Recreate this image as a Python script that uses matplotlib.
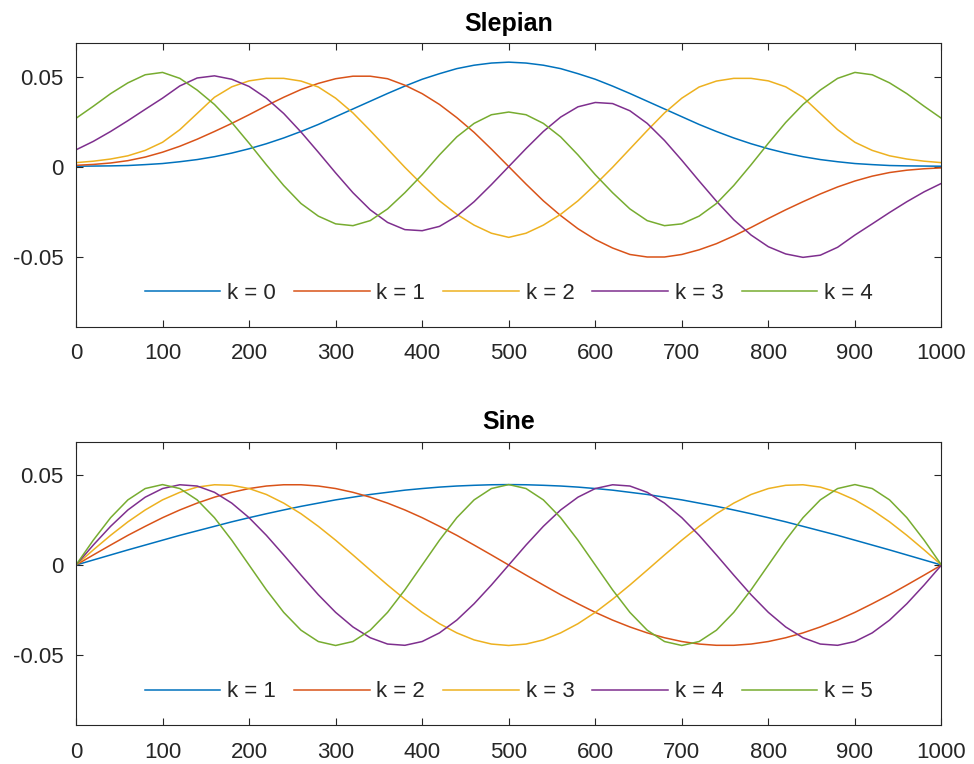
import numpy as np
import matplotlib
matplotlib.use("Agg")
import matplotlib.pyplot as plt

# sample positions (every 20 samples of 1000)
x = np.arange(0, 1001, 20)

# Slepian tapers
slep0 = [0.0002, 0.0003, 0.0004, 0.0006, 0.0011, 0.0017, 0.0027, 0.0039, 0.0055, 0.0075, 0.0099, 0.0127, 0.0159,
         0.0195, 0.0234, 0.0277, 0.0320, 0.0363, 0.0406, 0.0447, 0.0485, 0.0516, 0.0544, 0.0563, 0.0575, 0.0580,
         0.0575, 0.0563, 0.0544, 0.0516, 0.0485, 0.0447, 0.0406, 0.0363, 0.0320, 0.0277, 0.0234, 0.0195, 0.0159,
         0.0127, 0.0099, 0.0075, 0.0055, 0.0039, 0.0027, 0.0017, 0.0011, 0.0006, 0.0004, 0.0003, 0.0002]
slep1 = [0.0007, 0.0012, 0.0020, 0.0033, 0.0053, 0.0080, 0.0113, 0.0152, 0.0195, 0.0240, 0.0288, 0.0338, 0.0385,
         0.0428, 0.0462, 0.0488, 0.0502, 0.0502, 0.0488, 0.0452, 0.0405, 0.0345, 0.0272, 0.0190, 0.0097, 0.0,
         -0.0097, -0.0190, -0.0272, -0.0345, -0.0405, -0.0452, -0.0488, -0.0502, -0.0502, -0.0488, -0.0462, -0.0428,
         -0.0385, -0.0338, -0.0288, -0.0240, -0.0195, -0.0152, -0.0113, -0.0080, -0.0053, -0.0033, -0.0020, -0.0012,
         -0.0007]
slep2 = [0.0022, 0.0030, 0.0042, 0.0060, 0.0090, 0.0135, 0.0205, 0.0295, 0.0385, 0.0443, 0.0476, 0.0490, 0.0490,
         0.0475, 0.0442, 0.0380, 0.0298, 0.0200, 0.0098, -0.0004, -0.0100, -0.0190, -0.0265, -0.0325, -0.0370, -0.0393,
         -0.0370, -0.0325, -0.0265, -0.0190, -0.0100, -0.0004, 0.0098, 0.0200, 0.0298, 0.0380, 0.0442, 0.0475, 0.0490,
         0.0490, 0.0476, 0.0443, 0.0385, 0.0295, 0.0205, 0.0135, 0.0090, 0.0060, 0.0042, 0.0030, 0.0022]
slep3 = [0.0093, 0.0140, 0.0195, 0.0255, 0.0318, 0.0380, 0.0448, 0.0492, 0.0504, 0.0485, 0.0445, 0.0380, 0.0295,
         0.0192, 0.0080, -0.0035, -0.0145, -0.0240, -0.0310, -0.0350, -0.0356, -0.0332, -0.0275, -0.0195, -0.0100, 0.0,
         0.0100, 0.0195, 0.0275, 0.0332, 0.0356, 0.0350, 0.0310, 0.0240, 0.0145, 0.0035, -0.0080, -0.0192, -0.0295,
         -0.0380, -0.0445, -0.0485, -0.0504, -0.0492, -0.0448, -0.0380, -0.0318, -0.0255, -0.0195, -0.0140, -0.0093]
slep4 = [0.0268, 0.0335, 0.0405, 0.0465, 0.0510, 0.0523, 0.0490, 0.0425, 0.0345, 0.0245, 0.0130, 0.0010, -0.0105,
         -0.0205, -0.0275, -0.0318, -0.0328, -0.0300, -0.0235, -0.0145, -0.0045, 0.0065, 0.0165, 0.0240, 0.0288, 0.0303,
         0.0288, 0.0240, 0.0165, 0.0065, -0.0045, -0.0145, -0.0235, -0.0300, -0.0328, -0.0318, -0.0275, -0.0205,
         -0.0105, 0.0010, 0.0130, 0.0245, 0.0345, 0.0425, 0.0490, 0.0523, 0.0510, 0.0465, 0.0405, 0.0335, 0.0268]

# sine tapers
sine1 = [0, .0028, .0056, .0084, .0111, .0138, .0165, .0190, .0215, .0240, .0263, .0285, .0306, .0326, .0344, .0362,
         .0377, .0392, .0404, .0416, .0425, .0433, .0439, .0443, .0446, .0447, .0446, .0443, .0439, .0433, .0425, .0416,
         .0404, .0392, .0377, .0362, .0344, .0326, .0306, .0285, .0263, .0240, .0215, .0190, .0165, .0138, .0111, .0084,
         .0056, .0028, 0]
sine2 = [0, .0056, .0111, .0165, .0215, .0263, .0306, .0344, .0377, .0404, .0425, .0439, .0446, .0446, .0439, .0425,
         .0404, .0377, .0344, .0306, .0263, .0215, .0165, .0111, .0056, 0, -.0056, -.0111, -.0165, -.0215, -.0263,
         -.0306, -.0344, -.0377, -.0404, -.0425, -.0439, -.0446, -.0446, -.0439, -.0425, -.0404, -.0377, -.0344,
         -.0306, -.0263, -.0215, -.0165, -.0111, -.0056, 0]
sine3 = [0, .0084, .0165, .0240, .0306, .0362, .0404, .0433, .0446, .0443, .0425, .0392, .0344, .0285, .0215, .0138,
         .0056, -.0028, -.0111, -.0190, -.0263, -.0326, -.0377, -.0416, -.0439, -.0447, -.0439, -.0416, -.0377, -.0326,
         -.0263, -.0190, -.0111, -.0028, .0056, .0138, .0215, .0285, .0344, .0392, .0425, .0443, .0446, .0433, .0404,
         .0362, .0306, .0240, .0165, .0084, 0]
sine4 = [0, .0111, .0215, .0306, .0377, .0425, .0446, .0439, .0404, .0344, .0263, .0165, .0056, -.0056, -.0165, -.0263,
         -.0344, -.0404, -.0439, -.0446, -.0425, -.0377, -.0306, -.0215, -.0111, 0, .0111, .0215, .0306, .0377, .0425,
         .0446, .0439, .0404, .0344, .0263, .0165, .0056, -.0056, -.0165, -.0263, -.0344, -.0404, -.0439, -.0446,
         -.0425, -.0377, -.0306, -.0215, -.0111, 0]
sine5 = [0, .0138, .0263, .0362, .0425, .0447, .0425, .0362, .0263, .0138, 0, -.0138, -.0263, -.0362, -.0425, -.0447,
         -.0425, -.0362, -.0263, -.0138, 0, .0138, .0263, .0362, .0425, .0447, .0425, .0362, .0263, .0138, 0, -.0138,
         -.0263, -.0362, -.0425, -.0447, -.0425, -.0362, -.0263, -.0138, 0, .0138, .0263, .0362, .0425, .0447, .0425,
         .0362, .0263, .0138, 0]

slep_labels = ['k = 0', 'k = 1', 'k = 2', 'k = 3', 'k = 4']
sine_labels = ['k = 1', 'k = 2', 'k = 3', 'k = 4', 'k = 5']
colors = ['#0072BD', '#D95319', '#EDB120', '#7E2F8E', '#77AC30']
dark = '#262626'

plt.rcParams['font.family'] = ['Liberation Sans', 'DejaVu Sans']

fig = plt.figure(figsize=(9.74, 7.64), dpi=100)
ax1 = fig.add_axes([0.078, 0.5724, 0.8886, 0.371])
ax2 = fig.add_axes([0.078, 0.051, 0.8886, 0.3708])


def style(ax, title, series, labels):
    for y, lab, c in zip(series, labels, colors):
        ax.plot(x, y, color=c, lw=1.1, label=lab, solid_joinstyle='round')
    ax.set_xlim(0, 1000)
    ax.set_ylim(-0.0889, 0.0685)
    ax.set_xticks(np.arange(0, 1001, 100))
    ax.set_yticks([-0.05, 0, 0.05])
    ax.set_yticklabels(['-0.05', '0', '0.05'])
    ax.tick_params(direction='in', length=5, width=0.8, colors=dark, labelsize=16,
                   top=True, right=True)
    ax.tick_params(axis='x', pad=12)
    ax.tick_params(axis='y', pad=9)
    for s in ax.spines.values():
        s.set_color(dark)
        s.set_linewidth(0.8)
    ax.set_title(title, fontsize=18, fontweight='bold', color='black', pad=9)
    ax.legend(loc='center', bbox_to_anchor=(0.5, 0.117), ncol=5, frameon=False,
              fontsize=16, handlelength=3.4, handletextpad=0.3, columnspacing=0.82,
              labelcolor=dark)


style(ax1, 'Slepian', [slep0, slep1, slep2, slep3, slep4], slep_labels)
style(ax2, 'Sine', [sine1, sine2, sine3, sine4, sine5], sine_labels)

plt.savefig('out.png', dpi=100)
